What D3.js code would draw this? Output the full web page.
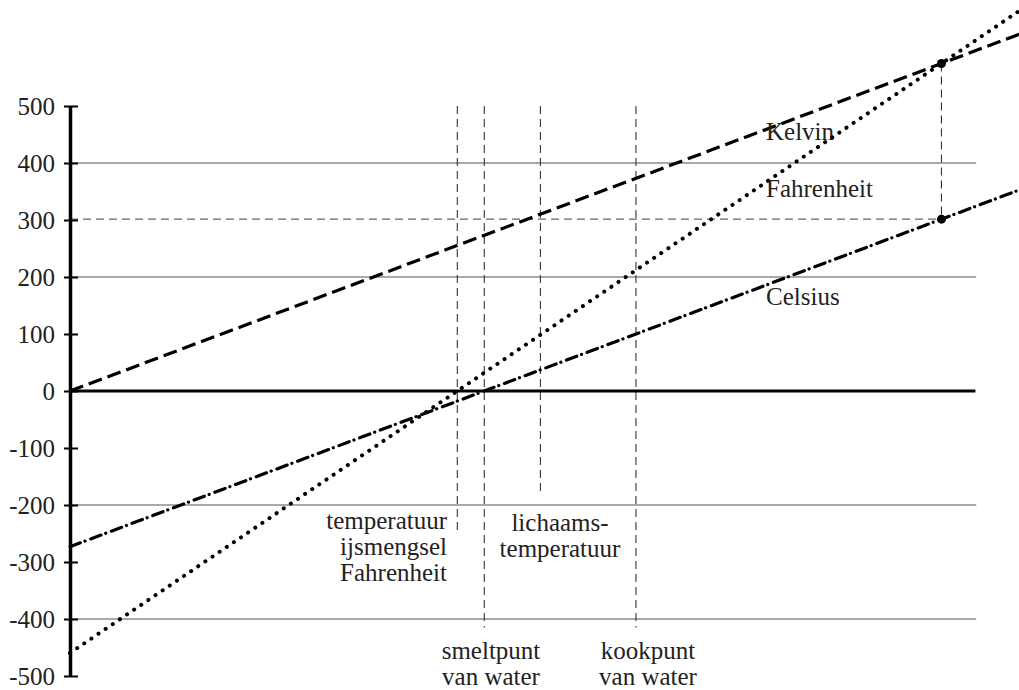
<html lang="nl">
<head>
<meta charset="UTF-8">
<title>Temperatuurschalen</title>
<script src="https://d3js.org/d3.v7.min.js"></script>
<style>
  body { margin: 0; background: #fff; }
  svg text { font-family: "Liberation Serif", "Times New Roman", Tinos, Times, "DejaVu Serif", serif; fill: #222; }
</style>
</head>
<body>
<svg></svg>
<script>
// x axis is the temperature in kelvin, y the reading on each scale
const yTicks = [500, 400, 300, 200, 100, 0, -100, -200, -300, -400, -500];
const gridValues = [400, 200, -200, -400];
const lineNames = ["Kelvin", "Fahrenheit", "Celsius"];
const lineStart = [0, -459.67, -273.15];      // reading at 0 K
const lineEnd = [640, 692.33, 366.85];        // reading at 640 K
const lineLabelY = [140, 197, 305];           // label baselines (px)

// reference temperatures (K) and where their dashed marker ends (value)
const markerK = [255.37, 273.15, 310.15, 373.15];
const markerBottom = [-245, -415, -178, -415];

// point where Fahrenheit = Kelvin
const crossK = 574.59;
const crossCelsius = 301.44;

const width = 1019, height = 690;
const fontSize = "25px";
const svg = d3.select("svg").attr("width", width).attr("height", height);

const x = d3.scaleLinear().domain([0, 600]).range([70, 980]);
const y = d3.scaleLinear().domain([-500, 500]).range([676, 106]);

// grid lines
svg.append("g").selectAll("line")
  .data(gridValues).enter().append("line")
  .attr("x1", x(0)).attr("x2", x(597.5))
  .attr("y1", d => y(d)).attr("y2", d => y(d))
  .attr("stroke", "#555").attr("stroke-width", 1.2);

// vertical markers
svg.append("g").selectAll("line")
  .data(markerK).enter().append("line")
  .attr("x1", d => x(d)).attr("x2", d => x(d))
  .attr("y1", y(500)).attr("y2", (d, i) => y(markerBottom[i]))
  .attr("stroke", "#333").attr("stroke-width", 1.1)
  .attr("stroke-dasharray", "8,5");

// helper lines to the intersection points
svg.append("line")
  .attr("x1", x(0)).attr("x2", x(crossK))
  .attr("y1", y(crossCelsius)).attr("y2", y(crossCelsius))
  .attr("stroke", "#666").attr("stroke-width", 1.2).attr("stroke-dasharray", "8,5");
svg.append("line")
  .attr("x1", x(crossK)).attr("x2", x(crossK))
  .attr("y1", y(crossK)).attr("y2", y(crossCelsius))
  .attr("stroke", "#333").attr("stroke-width", 1.1).attr("stroke-dasharray", "8,5");

// horizontal axis at 0
svg.append("line")
  .attr("x1", x(0)).attr("x2", x(597))
  .attr("y1", y(0)).attr("y2", y(0))
  .attr("stroke", "#000").attr("stroke-width", 3);

// y axis
const yAxis = d3.axisLeft(y).tickValues(yTicks).tickSize(8).tickSizeOuter(0)
  .tickFormat(d => String(d));
const ax = svg.append("g").attr("transform", `translate(${x(0)},0)`).call(yAxis);
ax.attr("font-family", null).attr("font-size", null);
ax.select(".domain").attr("stroke", "#000").attr("stroke-width", 3.5);
ax.selectAll(".tick line").attr("stroke", "#000").attr("stroke-width", 2).attr("x2", 8).attr("x1", -6);
ax.selectAll(".tick text")
  .attr("x", -15).attr("dy", "0.35em")
  .style("font-size", "25px").attr("fill", "#222");

// the three scale lines
const dashes = ["14,6", "0.1,8.5", "11,5,0.1,6"];
const caps = ["butt", "round", "round"];
const widths = [3.2, 4, 3.2];
const lineGen = d3.line().x(d => x(d[0])).y(d => y(d[1]));
lineNames.forEach((name, i) => {
  svg.append("path")
    .datum([[0, lineStart[i]], [640, lineEnd[i]]])
    .attr("d", lineGen)
    .attr("fill", "none")
    .attr("stroke", "#000")
    .attr("stroke-width", widths[i])
    .attr("stroke-linecap", caps[i])
    .attr("stroke-dasharray", dashes[i]);
  svg.append("text")
    .attr("x", 766).attr("y", lineLabelY[i])
    .style("font-size", fontSize)
    .text(name);
});

// intersection dots
svg.selectAll("circle.pt")
  .data([crossK, crossCelsius]).enter().append("circle")
  .attr("cx", x(crossK)).attr("cy", d => y(d)).attr("r", 4.5)
  .attr("fill", "#000");

// marker labels
const labels = [
  { lines: ["temperatuur", "ijsmengsel", "Fahrenheit"], x: 447, y: 529, anchor: "end" },
  { lines: ["lichaams-", "temperatuur"], x: 560, y: 531, anchor: "middle" },
  { lines: ["smeltpunt", "van water"], x: 491, y: 659, anchor: "middle" },
  { lines: ["kookpunt", "van water"], x: 648, y: 659, anchor: "middle" }
];
labels.forEach(l => {
  const t = svg.append("text")
    .attr("text-anchor", l.anchor)
    .style("font-size", fontSize);
  l.lines.forEach((s, j) => {
    t.append("tspan").attr("x", l.x).attr("y", l.y + j * 26).text(s);
  });
});
</script>
</body>
</html>
